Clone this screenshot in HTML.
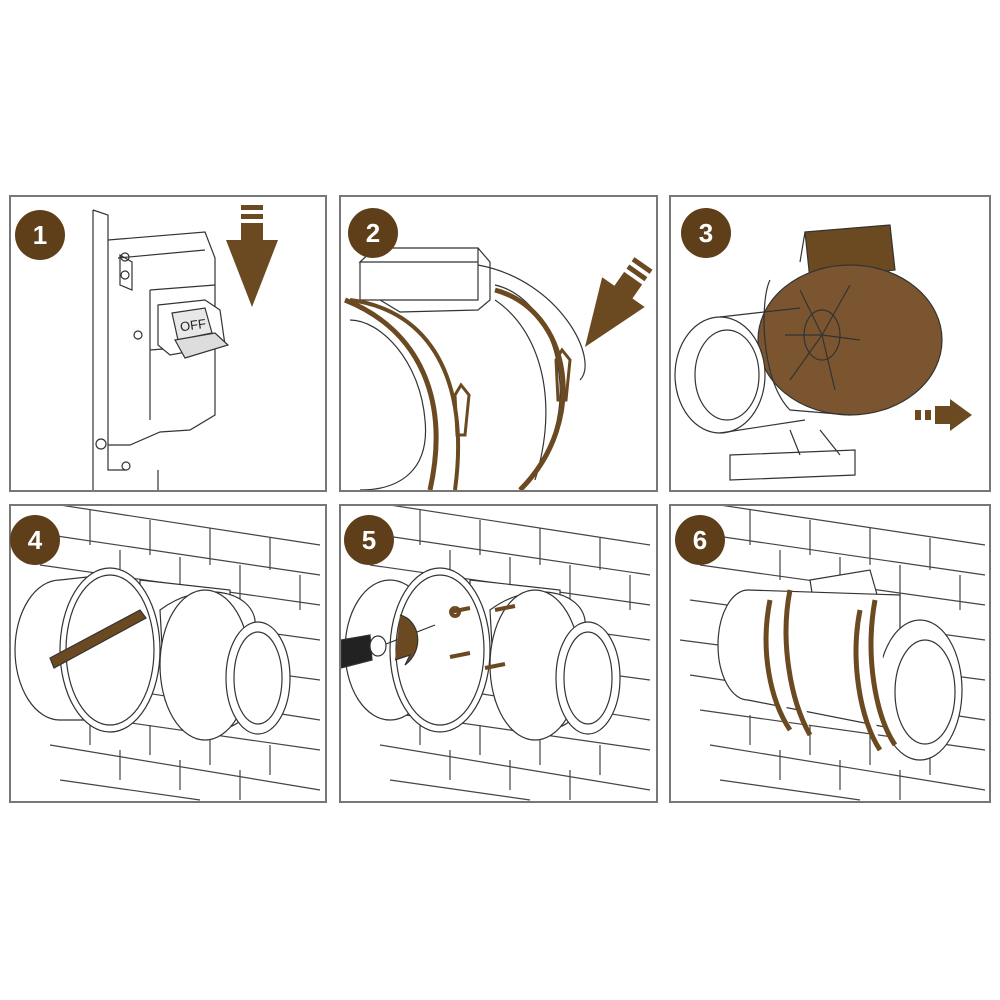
<!DOCTYPE html>
<html><head><style>
html,body{margin:0;padding:0;background:#fff;width:1000px;height:1000px;overflow:hidden}
svg{display:block}
text{font-family:"Liberation Sans",sans-serif}
</style></head><body>
<svg width="1000" height="1000" viewBox="0 0 1000 1000" xmlns="http://www.w3.org/2000/svg">
<defs>
<clipPath id="c1"><rect x="11" y="197" width="314" height="293"/></clipPath>
<clipPath id="c2"><rect x="341" y="197" width="315" height="293"/></clipPath>
<clipPath id="c3"><rect x="671" y="197" width="318" height="293"/></clipPath>
<clipPath id="c4"><rect x="11" y="506" width="314" height="295"/></clipPath>
<clipPath id="c5"><rect x="341" y="506" width="315" height="295"/></clipPath>
<clipPath id="c6"><rect x="671" y="506" width="318" height="295"/></clipPath>
</defs>
<g fill="none" stroke="#333" stroke-width="1.2">

<!-- Panel 1 -->
<g clip-path="url(#c1)">
<path d="M93 210 L93 490 M93 210 L108 215 L108 470 L125 470 M158 470 L158 490"/>
<path d="M108 240 L205 232 L215 258 L215 415 L190 430 L160 432 L130 445 L108 445"/>
<path d="M118 258 L205 250 M150 290 L215 285 M150 290 L150 420 M150 350 L215 345"/>
<path d="M120 255 L132 262 L132 290 L120 285 Z"/>
<circle cx="125" cy="257" r="4"/><circle cx="125" cy="275" r="4"/>
<circle cx="138" cy="335" r="4"/><circle cx="101" cy="444" r="5"/><circle cx="126" cy="466" r="4"/>
<path d="M158 305 L205 300 L220 310 L225 345 L170 355 L158 345 Z" fill="#fff"/>
<path d="M172 313 L205 308 L212 333 L178 340 Z" fill="#e8e8e8"/>
<path d="M175 340 L215 333 L228 345 L185 358 Z" fill="#ddd"/>
<text x="180" y="330" font-size="13" fill="#222" stroke="none" transform="rotate(-8 190 325)">OFF</text>
</g>
<path d="M241 205 h22 v5 h-22z M241 214 h22 v5 h-22z M241 223 h22 v17 h15 l-26 67 l-26 -67 h15z" fill="#6b4a22" stroke="none"/>

<!-- Panel 2 -->
<g clip-path="url(#c2)">
<path d="M360 262 L375 248 L478 248 L478 262 Z M360 262 L360 300 L478 300 L478 262 M478 248 L490 262 L490 300 L478 310 L400 312 L380 300"/>
<path d="M345 300 C 420 330, 450 400, 430 490" stroke="#6b4a22" stroke-width="5"/>
<path d="M495 285 C 560 300, 590 420, 520 490 M495 300 C 540 330, 560 400, 535 480" />
<path d="M350 320 C 380 320, 420 360, 425 420 C 430 470, 400 490, 360 490"/>
<path d="M350 300 C 430 310, 470 380, 455 490" stroke="#6b4a22" stroke-width="4"/>
<path d="M495 290 C 570 310, 590 420, 520 490" stroke="#6b4a22" stroke-width="5"/>
<path d="M478 265 C 560 280, 600 360, 580 380"/>
<path d="M455 395 l6 -10 l8 10 l-4 40 l-8 0z" stroke="#6b4a22" stroke-width="3"/>
<path d="M556 360 l6 -10 l8 10 l-4 40 l-8 0z" stroke="#6b4a22" stroke-width="3"/>
</g>
<g transform="translate(585,347) rotate(35)">
<path d="M-11 -102 h22 v5 h-22z M-11 -93 h22 v5 h-22z M-11 -84 h22 v17 h15 l-26 67 l-26 -67 h15z" fill="#6b4a22" stroke="none"/>
</g>

<!-- Panel 3 -->
<g clip-path="url(#c3)">
<path d="M805 232 L890 225 L895 270 L810 280 Z M805 232 L800 262" fill="#6b4a22" stroke="#333"/>
<ellipse cx="850" cy="340" rx="92" ry="75" fill="#7a5530" stroke="#333"/>
<path d="M770 280 C 760 300, 760 380, 790 410 L850 415" />
<ellipse cx="822" cy="335" rx="18" ry="25" fill="#7a5530"/>
<path d="M822 335 L800 290 M822 335 L850 285 M822 335 L860 340 M822 335 L835 390 M822 335 L790 380 M822 335 L785 335"/>
<ellipse cx="720" cy="375" rx="45" ry="58" fill="#fff"/>
<ellipse cx="727" cy="375" rx="32" ry="45" fill="#fff"/>
<path d="M720 317 L800 308 M720 433 L805 420"/>
<path d="M730 455 L855 450 L855 475 L730 480 Z M790 430 L800 455 M820 430 L840 455"/>
</g>
<path d="M915 410 h6 v10 h-6z M925 410 h6 v10 h-6z M935 406 h15 v-7 l22 16 l-22 16 v-7 h-15z" fill="#6b4a22" stroke="none"/>

<!-- Bricks -->
<g stroke="#444">
<g clip-path="url(#c4)">
<path d="M60 505 L320 545 M50 535 L320 575 M40 565 L320 605 M30 600 L320 640 M20 640 L320 680 M30 675 L320 720 M40 710 L320 750 M50 745 L320 790 M60 780 L200 800
M90 510 L90 545 M150 520 L150 555 M210 528 L210 565 M270 538 L270 570 M120 550 L120 580 M180 557 L180 590 M240 565 L240 600 M300 575 L300 610
M90 715 L90 745 M150 725 L150 755 M210 735 L210 765 M270 745 L270 775 M120 750 L120 780 M180 760 L180 790 M240 770 L240 800"/>
</g>
<g clip-path="url(#c5)">
<path d="M390 505 L650 545 M380 535 L650 575 M370 565 L650 605 M360 600 L650 640 M350 640 L650 680 M360 675 L650 720 M370 710 L650 750 M380 745 L650 790 M390 780 L530 800
M420 510 L420 545 M480 520 L480 555 M540 528 L540 565 M600 538 L600 570 M450 550 L450 580 M510 557 L510 590 M570 565 L570 600 M630 575 L630 610
M420 715 L420 745 M480 725 L480 755 M540 735 L540 765 M600 745 L600 775 M450 750 L450 780 M510 760 L510 790 M570 770 L570 800"/>
</g>
<g clip-path="url(#c6)">
<path d="M720 505 L985 545 M710 535 L985 575 M700 565 L985 605 M690 600 L985 640 M680 640 L985 680 M690 675 L985 720 M700 710 L985 750 M710 745 L985 790 M720 780 L860 800
M750 510 L750 545 M810 520 L810 555 M870 528 L870 565 M930 538 L930 570 M780 550 L780 580 M840 557 L840 590 M900 565 L900 600 M960 575 L960 610
M750 715 L750 745 M810 725 L810 755 M870 735 L870 765 M930 745 L930 775 M780 750 L780 780 M840 760 L840 790 M900 770 L900 800"/>
</g>
</g>

<!-- Panel 4 fan -->
<g clip-path="url(#c4)" fill="#fff">
<path d="M140 580 L230 590 L230 650 L140 665 Z"/>
<ellipse cx="60" cy="650" rx="45" ry="70"/>
<path d="M60 580 L105 575 L105 720 L60 720"/>
<ellipse cx="110" cy="650" rx="50" ry="82"/>
<ellipse cx="110" cy="650" rx="44" ry="75"/>
<path d="M160 610 C 200 580, 250 590, 255 620 L255 700 C 240 740, 190 740, 165 700 Z"/>
<ellipse cx="205" cy="665" rx="45" ry="75"/>
<ellipse cx="258" cy="678" rx="32" ry="56"/>
<ellipse cx="258" cy="678" rx="24" ry="46"/>
<path d="M50 658 L140 610 L146 618 L54 668 Z" fill="#6b4a22"/>
</g>

<!-- Panel 5 fan -->
<g clip-path="url(#c5)" fill="#fff">
<path d="M470 580 L560 590 L560 650 L470 665 Z"/>
<ellipse cx="390" cy="650" rx="45" ry="70"/>
<ellipse cx="440" cy="650" rx="50" ry="82"/>
<ellipse cx="440" cy="650" rx="44" ry="75"/>
<path d="M490 610 C 530 580, 580 590, 585 620 L585 700 C 570 740, 520 740, 495 700 Z"/>
<ellipse cx="535" cy="665" rx="45" ry="75"/>
<ellipse cx="588" cy="678" rx="32" ry="56"/>
<ellipse cx="588" cy="678" rx="24" ry="46"/>
<path d="M341 640 L370 635 L372 660 L341 668 Z" fill="#222"/>
<ellipse cx="378" cy="646" rx="8" ry="10"/>
<path d="M386 644 L435 625"/>
<path d="M400 615 C 420 620, 425 650, 405 665 L410 655 L395 660" fill="#6b4a22"/>
<path d="M450 612 l20 -4 M455 608 a4 4 0 1 0 0.1 0 M450 657 l20 -4 M495 610 l20 -4 M485 668 l20 -4" stroke="#6b4a22" stroke-width="4"/>
</g>

<!-- Panel 6 fan -->
<g clip-path="url(#c6)" fill="#fff">
<path d="M810 580 L870 570 L880 605 L815 612 Z"/>
<ellipse cx="748" cy="645" rx="30" ry="55"/>
<path d="M748 590 L900 595 L900 730 L748 700"/>
<ellipse cx="920" cy="690" rx="42" ry="70"/>
<ellipse cx="925" cy="692" rx="30" ry="52"/>
<path d="M770 600 C 760 650, 770 700, 790 730 M790 590 C 780 640, 790 700, 810 735" stroke="#6b4a22" stroke-width="5"/>
<path d="M860 610 C 850 660, 860 720, 880 750 M875 600 C 865 655, 875 715, 895 745" stroke="#6b4a22" stroke-width="5"/>
</g>
</g>

<!-- Panel borders -->
<g fill="none" stroke="#777" stroke-width="2">
<rect x="10" y="196" width="316" height="295"/>
<rect x="340" y="196" width="317" height="295"/>
<rect x="670" y="196" width="320" height="295"/>
<rect x="10" y="505" width="316" height="297"/>
<rect x="340" y="505" width="317" height="297"/>
<rect x="670" y="505" width="320" height="297"/>
</g>

<!-- Number badges -->
<g font-size="26" font-weight="bold" text-anchor="middle" fill="#fff">
<circle cx="40" cy="235" r="25" fill="#5e3f1a"/><text x="40" y="244">1</text>
<circle cx="373" cy="233" r="25" fill="#5e3f1a"/><text x="373" y="242">2</text>
<circle cx="706" cy="233" r="25" fill="#5e3f1a"/><text x="706" y="242">3</text>
<circle cx="35" cy="540" r="25" fill="#5e3f1a"/><text x="35" y="549">4</text>
<circle cx="369" cy="540" r="25" fill="#5e3f1a"/><text x="369" y="549">5</text>
<circle cx="700" cy="540" r="25" fill="#5e3f1a"/><text x="700" y="549">6</text>
</g>
</svg>
</body></html>
